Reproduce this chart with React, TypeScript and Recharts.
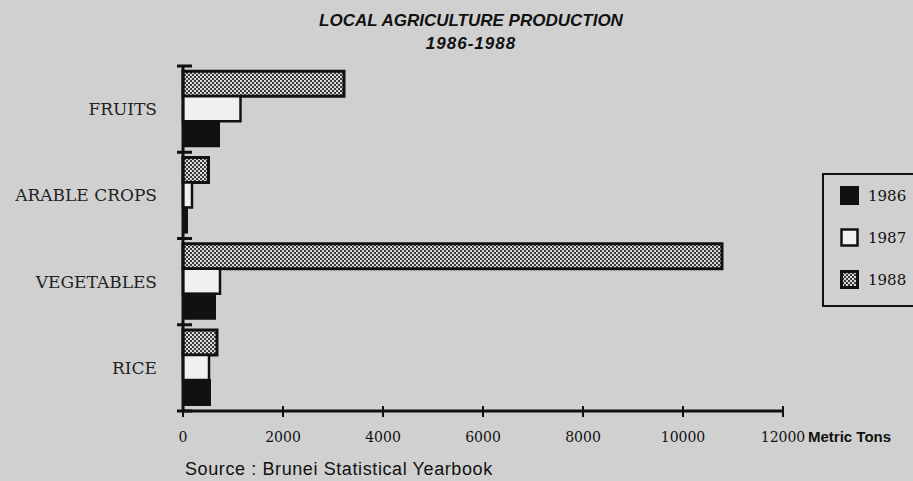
import React from "react";
import { BarChart, Bar, XAxis, YAxis, Legend } from "recharts";

const categories = ["FRUITS", "ARABLE CROPS", "VEGETABLES", "RICE"];
const years = ["1986", "1987", "1988"];
const values1986 = [720, 80, 640, 540];
const values1987 = [1150, 180, 740, 520];
const values1988 = [3220, 510, 10780, 680];
const xTicks = [0, 2000, 4000, 6000, 8000, 10000, 12000];

const data = categories.map((name, i) => ({
  name,
  y1986: values1986[i],
  y1987: values1987[i],
  y1988: values1988[i],
}));

const paper = "#d0d0d0";
const serif = "'DejaVu Serif', serif";
const sans = "'Liberation Sans', Arial, sans-serif";

const fills: Record<string, string> = {
  "1986": "#111111",
  "1987": "#f0f0f0",
  "1988": "url(#stipple)",
};

function XTick(props: any) {
  const { x, y, payload } = props;
  return (
    <g>
      <line x1={x} x2={x} y1={y - 5} y2={y + 6} stroke="#111" strokeWidth={2} />
      <text x={x} y={y + 31} textAnchor="middle" fontFamily={serif} fontSize={14} fill="#111">
        {payload.value}
      </text>
      {payload.value === 12000 && (
        <text x={x + 25} y={y + 31} fontFamily={sans} fontSize={15} fontWeight="bold" fill="#111">
          Metric Tons
        </text>
      )}
    </g>
  );
}

function YTick(props: any) {
  const { x, y, payload, index, visibleTicksCount } = props;
  const half = payload.offset || 43;
  const last = index === (visibleTicksCount ?? categories.length) - 1;
  return (
    <g>
      <line x1={x - 6} x2={x + 9} y1={y - half} y2={y - half} stroke="#111" strokeWidth={3} />
      {last && <line x1={x - 6} x2={x + 9} y1={y + half} y2={y + half} stroke="#111" strokeWidth={3} />}
      <text x={x - 26} y={y + 6} textAnchor="end" fontFamily={serif} fontSize={17} fill="#222">
        {payload.value}
      </text>
    </g>
  );
}

function LegendBox() {
  return (
    <div
      style={{
        border: "2px solid #111",
        width: 110,
        height: 134,
        boxSizing: "border-box",
        paddingTop: 0,
        paddingLeft: 16,
      }}
    >
      {years.map((yr) => (
        <div key={yr} style={{ display: "flex", alignItems: "center", height: 42 }}>
          <svg width={20} height={20} style={{ marginRight: 8 }}>
            <rect
              x={1.5}
              y={1.5}
              width={16}
              height={16}
              fill={fills[yr]}
              stroke="#111"
              strokeWidth={yr === "1987" ? 2.5 : 3}
            />
          </svg>
          <span style={{ fontFamily: serif, fontSize: 15, color: "#111" }}>{yr}</span>
        </div>
      ))}
    </div>
  );
}

export default function App() {
  return (
    <div style={{ position: "relative", width: 913, height: 481, background: paper, overflow: "hidden" }}>
      <style>{`body{margin:0;background:${paper};}`}</style>
      <div
        style={{
          position: "absolute",
          left: 271,
          width: 400,
          top: 9,
          textAlign: "center",
          fontFamily: sans,
          fontSize: 17,
          fontWeight: "bold",
          fontStyle: "italic",
          lineHeight: "23px",
          color: "#111",
        }}
      >
        <div>LOCAL AGRICULTURE PRODUCTION</div>
        <div style={{ letterSpacing: 1 }}>1986-1988</div>
      </div>
      <BarChart
        width={913}
        height={481}
        data={data}
        layout="vertical"
        margin={{ top: 66, right: 130, bottom: 40, left: 0 }}
        barCategoryGap="6%"
        barGap={0}
      >
        <defs>
          <pattern id="stipple" width={4} height={4} patternUnits="userSpaceOnUse">
            <rect width={4} height={4} fill="#3c3c3c" />
            <rect x={0} y={0} width={2} height={2} fill="#d8d8d8" />
            <rect x={2} y={2} width={2} height={2} fill="#d8d8d8" />
          </pattern>
        </defs>
        <XAxis
          type="number"
          domain={[0, 12000]}
          ticks={xTicks}
          height={30}
          tickSize={0}
          tickMargin={0}
          tickLine={false}
          tick={<XTick />}
          axisLine={{ stroke: "#111", strokeWidth: 3 }}
          interval={0}
        />
        <YAxis
          type="category"
          dataKey="name"
          width={183}
          tickSize={0}
          tickMargin={0}
          tickLine={false}
          tick={<YTick />}
          axisLine={{ stroke: "#111", strokeWidth: 3 }}
          interval={0}
        />
        <Legend
          layout="horizontal"
          align="center"
          verticalAlign="middle"
          wrapperStyle={{ left: 822, top: 173, width: 110, height: 134 }}
          content={() => <LegendBox />}
        />
        <Bar dataKey="y1988" name="1988" fill={fills["1988"]} stroke="#111" strokeWidth={3} isAnimationActive={false} />
        <Bar dataKey="y1987" name="1987" fill={fills["1987"]} stroke="#111" strokeWidth={2.5} isAnimationActive={false} />
        <Bar dataKey="y1986" name="1986" fill={fills["1986"]} stroke="#111" strokeWidth={2} isAnimationActive={false} />
      </BarChart>
      <div
        style={{
          position: "absolute",
          left: 185,
          top: 459,
          fontFamily: sans,
          fontSize: 18,
          letterSpacing: 0.6,
          color: "#111",
        }}
      >
        Source : Brunei Statistical Yearbook
      </div>
    </div>
  );
}
